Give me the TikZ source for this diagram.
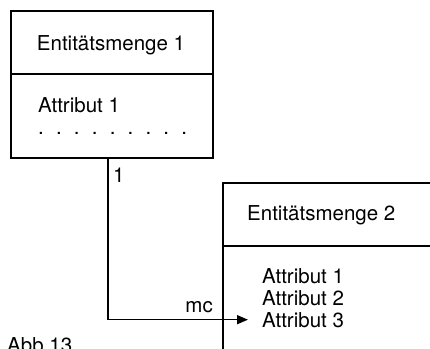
\documentclass[tikz,border=0pt]{standalone}
\usepackage{fontspec}
\setmainfont{TeX Gyre Heros}
\usetikzlibrary{arrows.meta}
\begin{document}
\begin{tikzpicture}[x=1pt,y=-1pt,
  box/.style={draw, line width=1.5pt, rectangle, inner sep=0pt, anchor=north west},
  txt/.style={inner sep=0pt, font=\fontsize{20.5}{22}\selectfont},
  conn/.style={line width=1.5pt}]
\useasboundingbox (0,0) rectangle (430,348);
% box 1
\node[box, minimum width=202pt, minimum height=63pt] (h1) at (10,10) {};
\node[box, minimum width=202pt, minimum height=84pt] (b1) at (10,73) {};
\node[txt, anchor=base] (t1) at (111,50) {Entitätsmenge 1};
\node[txt, anchor=base west] (b1a1) at (38,112) {Attribut 1};
\node[txt, anchor=base west] (b1d) at (38,134) {.\hskip12.2pt.\hskip12.2pt.\hskip12.2pt.\hskip12.2pt.\hskip12.2pt.\hskip12.2pt.\hskip12.2pt.\hskip12.2pt.};
% box 2
\node[box, minimum width=230pt, minimum height=63pt] (h2) at (222,182) {};
\node[box, minimum width=230pt, minimum height=130pt] (b2) at (222,245) {};
\node[txt, anchor=base west] (t2) at (247,220) {Entitätsmenge 2};
\node[txt, anchor=base west] (a1) at (262,283) {Attribut 1};
\node[txt, anchor=base west] (a2) at (262,305) {Attribut 2};
\node[txt, anchor=base west] (a3) at (262,327) {Attribut 3};
% connector
\coordinate (src) at ([xshift=-4pt]b1.south);
\coordinate (tip) at ([xshift=-14pt]a3.west);
\draw[conn, -{Triangle[length=11pt,width=9pt]}] (src) |- (tip);
\node[txt, anchor=base west] (l1) at (113,182) {1};
\node[txt, anchor=base east] (lmc) at (213,312) {mc};
\node[txt, anchor=base west] (abb) at (7,352) {Abb 13};
\end{tikzpicture}
\end{document}
